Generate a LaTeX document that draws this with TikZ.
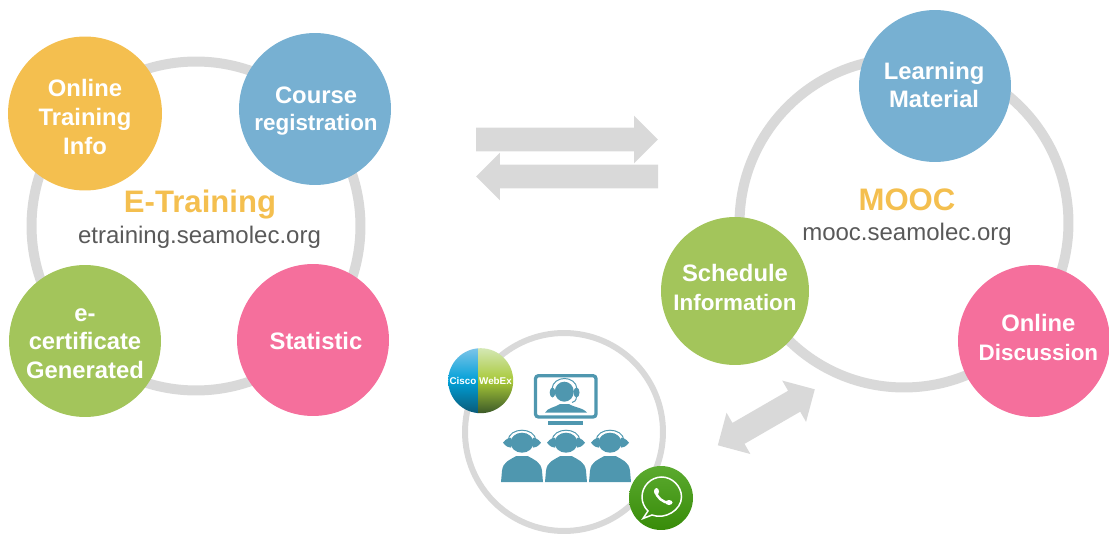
\documentclass[tikz,border=0pt]{standalone}
\usepackage{fontspec}
\setmainfont{Liberation Sans}
\usetikzlibrary{shapes.arrows}
\definecolor{ringgray}{HTML}{D9D9D9}
\definecolor{bubbleamber}{HTML}{F4BF4F}
\definecolor{bubbleblue}{HTML}{77B0D2}
\definecolor{bubblegreen}{HTML}{A3C55B}
\definecolor{bubblepink}{HTML}{F56F9C}
\definecolor{subtitlegray}{HTML}{595959}
\definecolor{iconteal}{HTML}{4F97AF}
\definecolor{wagreen}{HTML}{3E9B0A}
\definecolor{webexbluetop}{HTML}{7CC4E8}
\definecolor{webexbluemid}{HTML}{00A0D8}
\definecolor{webexbluelow}{HTML}{0A5A78}
\definecolor{webexgreentop}{HTML}{D4E8B4}
\definecolor{webexgreenmid}{HTML}{A8C838}
\definecolor{webexgreenlow}{HTML}{3C5A28}
\newcommand{\narrowline}[1]{{\fontsize{12.75}{16}\selectfont #1}}
\begin{document}
\begin{tikzpicture}[
        x=0.02cm, y=-0.02cm, % one unit is one pixel of the reference
        ring/.style={draw=ringgray, line width=0.2cm},
        smallring/.style={draw=ringgray, line width=0.12cm},
        bubbletext/.style={align=center, text=white, font=\fontsize{13.55}{16.3}\selectfont\bfseries},
        bubble/.style={circle, minimum size=3.04cm, inner sep=0pt}, % coloured discs
        title/.style={font=\fontsize{17.7}{20}\selectfont\bfseries, text=bubbleamber},
        subtitle/.style={font=\fontsize{13.66}{16}\selectfont, text=subtitlegray},
        goarrow/.style={single arrow, fill=ringgray, inner xsep=0pt, inner ysep=0.23cm, outer sep=0pt,
                single arrow head extend=0.24cm, minimum height=3.64cm},
        listener/.pic={
                \fill[iconteal] (-21,39.5) -- (-20,28) .. controls (-19,19) and (-12,17) .. (-6,13.5)
                    -- (6,13.5) .. controls (12,17) and (19,19) .. (20,28) -- (21,39.5) -- cycle;
                \fill[iconteal] (0,0) ellipse (11.5 and 10);
                \draw[iconteal, line width=0.02cm] (-14,-2) .. controls (-13,-16) and (13,-16) .. (14,-2);
                \fill[iconteal] (-19,0) .. controls (-16,-4) and (-13,-5) .. (-11,-5) -- (-11,5)
                    .. controls (-13,5) and (-16,4) .. (-19,0) -- cycle;
                \fill[iconteal] (19,0) .. controls (16,-4) and (13,-5) .. (11,-5) -- (11,5)
                    .. controls (13,5) and (16,4) .. (19,0) -- cycle;
            },
    ]
    \useasboundingbox (0,0) rectangle (1109,537);

    % rings
    \node[circle, ring, minimum size=6.58cm, inner sep=0pt] (ringtraining) at (196,226) {};
    \node[circle, ring, minimum size=6.58cm, inner sep=0pt] (ringmooc) at (904,223) {};
    \node[circle, smallring, minimum size=3.96cm, inner sep=0pt] (ringwebinar) at (564,432) {};

    % E-Training
    \node[bubble, fill=bubbleamber, minimum size=3.08cm,
        label={[bubbletext, yshift=-2pt]center:Online\\Training\\Info}] (online) at (85,113.5) {};
    \node[bubble, fill=bubbleblue,
        label={[bubbletext, xshift=0.6pt, yshift=-1.2pt]center:Course\\[-0.6pt]\narrowline{registration}}] (course) at (315,109) {};
    \node[bubble, fill=bubblegreen,
        label={[bubbletext, yshift=-1.5pt]center:e-\\certificate\\Generated}] (certificate) at (85,341) {};
    \node[bubble, fill=bubblepink,
        label={[bubbletext, xshift=1.7pt, yshift=-0.6pt]center:Statistic}] (statistic) at (313,340) {};
    \node[title] (etraining) at (200,204.5) {E-Training};
    \node[subtitle] (etrainingurl) at (199.5,237) {etraining.seamolec.org};

    % MOOC
    \node[bubble, fill=bubbleblue,
        label={[bubbletext, xshift=-0.5pt, yshift=0.5pt]center:Learning\\Material}] (learning) at (935,86) {};
    \node[bubble, fill=bubblegreen, minimum size=2.96cm,
        label={[bubbletext, yshift=2pt]center:Schedule\\\narrowline{Information}}] (schedule) at (735,291) {};
    \node[bubble, fill=bubblepink,
        label={[bubbletext, xshift=2.5pt, yshift=2pt]center:Online\\\narrowline{Discussion}}] (discussion) at (1034,341) {};
    \node[title] (mooc) at (907,200) {MOOC};
    \node[subtitle] (moocurl) at (907,234) {mooc.seamolec.org};

    % arrows
    \node[goarrow, anchor=tail] (arrowgo) at (476,139.5) {};
    \node[goarrow, shape border rotate=180, anchor=tail] (arrowback) at (658,176.5) {};
    \node[double arrow, fill=ringgray, inner xsep=0pt, inner ysep=0.235cm, outer sep=0pt,
        double arrow head extend=0.235cm, minimum height=2.24cm, rotate=30] (arrowlink) at (766.3,417.3) {};

    % monitor
    \draw[iconteal, line width=0.066cm, rounded corners=0.06cm] (535.5,375.7) rectangle (596,417);
    \fill[iconteal] (548,420.7) rectangle (583,425);
    \fill[iconteal] (545,412.7) .. controls (547,408) and (556,407) .. (560,404) -- (569,404)
        .. controls (573,407) and (584,408) .. (587,412.7) -- cycle;
    \fill[iconteal] (564.3,391.7) ellipse (9.5 and 10);
    \draw[iconteal, line width=0.02cm] (552,389) .. controls (553,375) and (576,375) .. (577,389);
    \fill[iconteal] (552.5,392.5) ellipse (2.8 and 5) (576.5,392.5) ellipse (3 and 5);
    \draw[iconteal, line width=0.02cm] (576.5,396) .. controls (576.5,401) and (574,402) .. (572,402.5);

    % audience
    \pic at (522,442.7) {listener};
    \pic at (566,442.7) {listener};
    \pic at (610,442.7) {listener};

    % Cisco WebEx logo
    \node[circle, minimum size=1.3cm, inner sep=0pt, text=white, font=\fontsize{5.6}{6}\selectfont\bfseries,
        path picture={
                \shade[top color=webexbluetop, bottom color=webexbluelow, middle color=webexbluemid]
                    (path picture bounding box.south west) rectangle ([xshift=-0.05cm]path picture bounding box.north);
                \shade[top color=webexgreentop, bottom color=webexgreenlow, middle color=webexgreenmid]
                    ([xshift=-0.05cm]path picture bounding box.south) rectangle (path picture bounding box.north east);
            }] (webex) at (480.7,380.7) {Cisco WebEx};

    % WhatsApp logo
    \node[circle, minimum size=1.28cm, inner sep=0pt, top color=wagreen!85!white, bottom color=wagreen!90!black] (whatsapp) at (661,498) {};
    \draw[white, line width=0.03cm] (648,511) -- (643,518.5) -- (652,515) .. controls (665,520) and (681.5,510) .. (681.5,497)
        .. controls (681.5,486) and (672,477) .. (661.7,477) .. controls (651,477) and (642,486) .. (642,497)
        .. controls (642,502) and (644,507) .. (648,511) -- cycle;
    \draw[white, line width=0.05cm, line cap=round] (655.5,490.5) .. controls (656,497) and (663,503) .. (670,503);
    \fill[white] (656.5,491.5) ellipse (2.5 and 3.5) (669,502.5) ellipse (3.5 and 2.5);
\end{tikzpicture}
\end{document}
